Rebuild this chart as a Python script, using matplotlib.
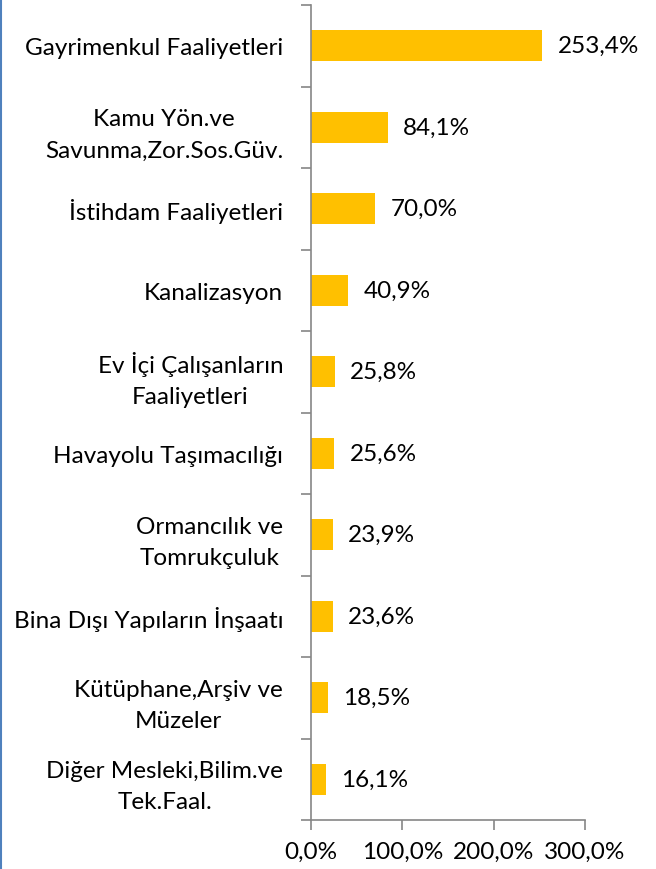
import numpy as np
import matplotlib
matplotlib.use('Agg')
import matplotlib.pyplot as plt
from matplotlib.lines import Line2D

# Datos
categorias = ['Gayrimenkul Faaliyetleri',
              'Kamu Yön.ve\nSavunma,Zor.Sos.Güv.',
              'İstihdam Faaliyetleri',
              'Kanalizasyon',
              'Ev İçi Çalışanların\nFaaliyetleri',
              'Havayolu Taşımacılığı',
              'Ormancılık ve\nTomrukçuluk',
              'Bina Dışı Yapıların İnşaatı',
              'Kütüphane,Arşiv ve\nMüzeler',
              'Diğer Mesleki,Bilim.ve\nTek.Faal.']
valores = [253.4, 84.1, 70.0, 40.9, 25.8, 25.6, 23.9, 23.6, 18.5, 16.1]
ticks_x = [0, 100, 200, 300]

plt.rcParams['font.family'] = ['Lato', 'DejaVu Sans']
fs = 17.5

fig = plt.figure(figsize=(6.56, 8.7), dpi=100)
ax = fig.add_axes([311 / 656, 49 / 870, 274 / 656, 815 / 870])

n = len(categorias)
pos = np.arange(n)
ax.barh(pos, valores, height=0.38, color='#FFC000')

for p, v in zip(pos, valores):
    ax.text(v + 17, p, f'{v:.1f}%'.replace('.', ','), va='center', ha='left',
            fontsize=fs, color='black')

ax.set_xlim(0, 300)
ax.set_ylim(n - 0.5, -0.5)

ax.set_xticks(ticks_x)
ax.set_xticklabels([f'{t:.1f}%'.replace('.', ',') for t in ticks_x], fontsize=fs)
ax.tick_params(axis='x', length=7, width=1.2, color='#868686', pad=8)

ax.set_yticks(pos)
ax.set_yticklabels(categorias, fontsize=fs, multialignment='center', linespacing=1.6)
ax.tick_params(axis='y', which='major', length=0, pad=20)
ax.set_yticks(np.arange(n + 1) - 0.5, minor=True)
ax.tick_params(axis='y', which='minor', length=7, width=1.2, color='#868686')

for s in ['top', 'right']:
    ax.spines[s].set_visible(False)
for s in ['left', 'bottom']:
    ax.spines[s].set_color('#868686')
    ax.spines[s].set_linewidth(1.2)

# borde azul a la izquierda
fig.add_artist(Line2D([1 / 656, 1 / 656], [0, 1], color='#4F81BD', linewidth=1.5,
                      transform=fig.transFigure))

fig.savefig('out.png', dpi=100)
